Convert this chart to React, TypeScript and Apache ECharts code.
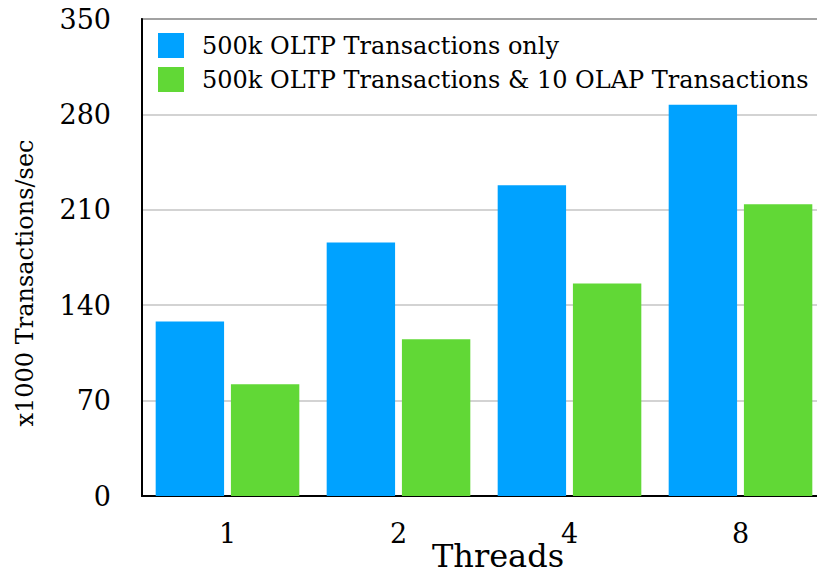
import React, { useEffect, useRef } from "react";
import * as echarts from "echarts";

const categories = ["1", "2", "4", "8"];
const seriesNames = [
  "500k OLTP Transactions only",
  "500k OLTP Transactions & 10 OLAP Transactions",
];
const oltpOnly = [128, 186, 228, 287];
const oltpOlap = [82, 115, 156, 214];
const yTicks = { min: 0, max: 350, interval: 70 };
const xTitle = "Threads";
const yTitle = "x1000 Transactions/sec";

const FONT = "'DejaVu Serif', serif";

export default function App() {
  const ref = useRef<HTMLDivElement>(null);
  useEffect(() => {
    if (!ref.current) return;
    const chart = echarts.init(ref.current, null, { renderer: "svg" });
    chart.setOption({
      animation: false,
      backgroundColor: "#ffffff",
      textStyle: { fontFamily: FONT, color: "#000" },
      grid: {
        left: 142,
        top: 19,
        width: 684,
        height: 477,
        show: true,
        borderColor: "#000",
        borderWidth: 1.5,
        containLabel: false,
      },
      legend: {
        orient: "vertical",
        left: 158,
        top: 33,
        itemWidth: 26,
        itemHeight: 25,
        itemGap: 9,
        icon: "rect",
        padding: 0,
        textStyle: {
          fontFamily: FONT,
          fontSize: 24,
          color: "#000",
          padding: [0, 0, 0, 13],
        },
        data: seriesNames,
      },
      xAxis: {
        type: "category",
        data: categories,
        axisLine: { lineStyle: { color: "#000", width: 2 } },
        axisTick: { show: false },
        axisLabel: {
          fontFamily: FONT,
          fontSize: 27,
          color: "#000",
          margin: 24,
        },
      },
      yAxis: {
        type: "value",
        min: yTicks.min,
        max: yTicks.max,
        interval: yTicks.interval,
        axisLine: { show: true, lineStyle: { color: "#000", width: 2 } },
        axisTick: { show: false },
        splitLine: { lineStyle: { color: "#c4c4c4", width: 1.5 } },
        axisLabel: {
          fontFamily: FONT,
          fontSize: 27,
          color: "#000",
          margin: 31,
        },
      },
      graphic: [
        {
          type: "text",
          x: 498,
          y: 556,
          style: {
            text: xTitle,
            fontFamily: FONT,
            fontSize: 32,
            lineHeight: 32,
            fill: "#000",
            align: "center",
            verticalAlign: "middle",
          },
        },
        {
          type: "text",
          x: 25,
          y: 283,
          rotation: Math.PI / 2,
          style: {
            text: yTitle,
            fontFamily: FONT,
            fontSize: 24,
            fill: "#000",
            align: "center",
            verticalAlign: "middle",
          },
        },
      ],
      series: [
        {
          name: seriesNames[0],
          type: "bar",
          data: oltpOnly,
          itemStyle: { color: "#00a2ff" },
          barGap: "10%",
          barCategoryGap: "16%",
        },
        {
          name: seriesNames[1],
          type: "bar",
          data: oltpOlap,
          itemStyle: { color: "#61d836" },
          barGap: "10%",
          barCategoryGap: "16%",
        },
      ],
    });
    return () => chart.dispose();
  }, []);
  return (
    <div style={{ width: 817, height: 575, position: "absolute", left: 0, top: 0, overflow: "hidden" }}>
      <div ref={ref} style={{ width: 830, height: 575 }} />
    </div>
  );
}
